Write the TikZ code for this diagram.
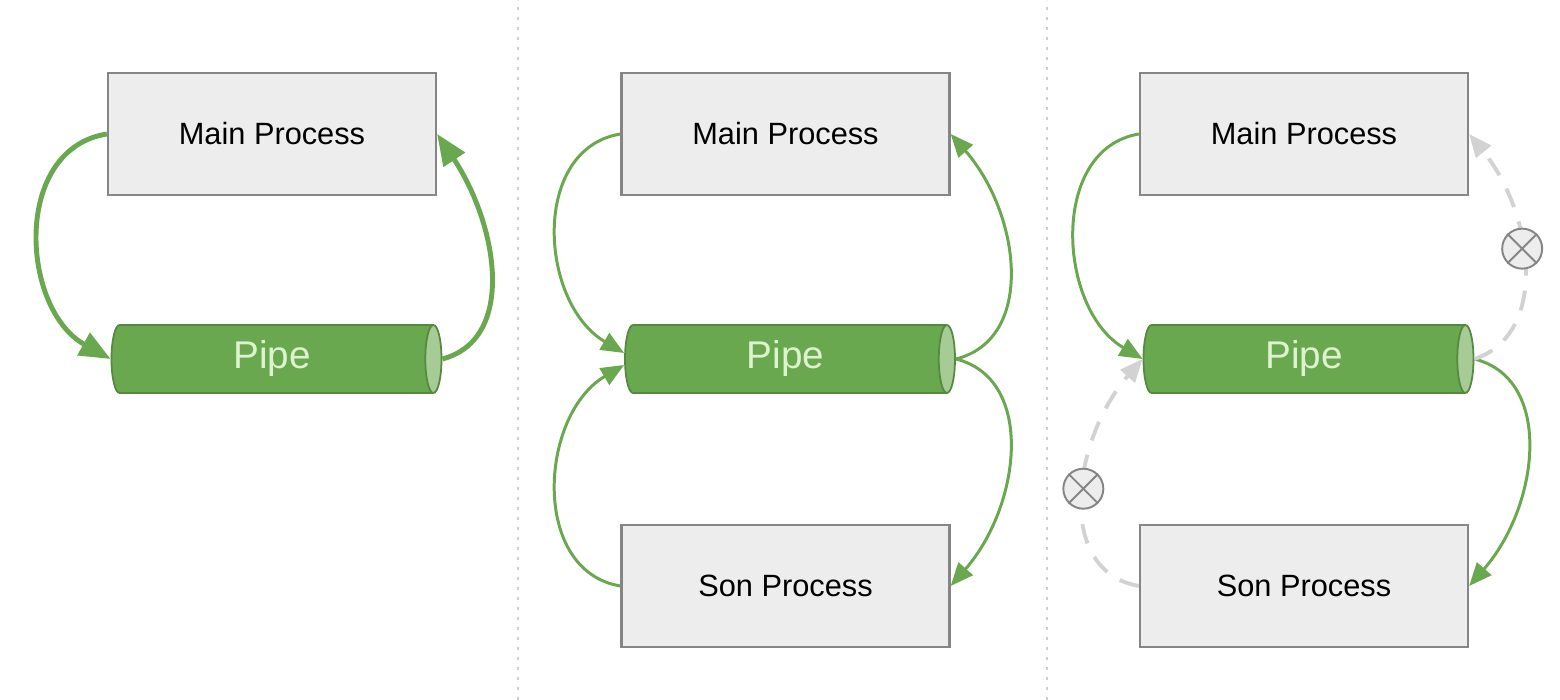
\documentclass[tikz,border=0pt]{standalone}
\usepackage{fontspec}
\setmainfont{Liberation Sans}
\usetikzlibrary{shapes.geometric}
\usetikzlibrary{arrows.meta}

\definecolor{boxfill}{HTML}{EDEDED}
\definecolor{boxline}{HTML}{858585}
\definecolor{pipegreen}{HTML}{6AA84F}
\definecolor{pipeline}{HTML}{55893F}
\definecolor{pipecap}{HTML}{A6CB94}
\definecolor{pipetext}{HTML}{DDF3CF}
\definecolor{deadgray}{HTML}{D2D2D2}
\definecolor{sepgray}{HTML}{CFCFCF}

\tikzset{
  procbox/.style={draw=boxline, fill=boxfill, line width=1.3pt, minimum width=6.56cm,
    minimum height=2.44cm, inner sep=0pt, font=\fontsize{17.5}{21}\selectfont},
  pipebox/.style={cylinder, shape aspect=0.45, draw=pipeline, line width=1pt,
    cylinder uses custom fill, cylinder body fill=pipegreen, cylinder end fill=pipecap,
    minimum height=6.6cm, minimum width=1.36cm, inner sep=0pt, text=pipetext,
    font=\fontsize{22}{26}\selectfont},
  flowbig/.style={draw=pipegreen, line width=2.8pt, -{Triangle[length=0.62cm,width=0.5cm]}},
  flow/.style={draw=pipegreen, line width=1.7pt, -{Triangle[length=0.46cm,width=0.38cm]}},
  deadflow/.style={draw=deadgray, line width=2.2pt, dash pattern=on 0.4cm off 0.3cm,
    -{Triangle[length=0.46cm,width=0.38cm]}},
  blocked/.style={circle, solid, draw=boxline, fill=boxfill, line width=1.1pt, minimum size=0.8cm, inner sep=0pt},
  sepline/.style={draw=sepgray, line width=1.6pt, dash pattern=on 0.06cm off 0.14cm}
}

\begin{document}
\begin{tikzpicture}
\useasboundingbox (0,0) rectangle (31.2,14);

% Separators
\draw[sepline] (10.36,0) -- (10.36,14);
\draw[sepline] (20.94,0) -- (20.94,14);

% Panel 1: main process and pipe
\node[procbox] (main1) at (5.44,11.32) {Main Process};
\node[pipebox] (pipe1) at (5.44,6.82) {Pipe};
\draw[flowbig] (main1.west) .. controls +(-1.9,-0.3) and +(-1.8,1.0) .. (pipe1.west);
\draw[flowbig] (pipe1.east) .. controls +(1.5,0.4) and +(1.2,-1.8) .. (main1.east);

% Panel 2: main process, pipe and son process
\node[procbox] (main2) at (15.71,11.32) {Main Process};
\node[pipebox] (pipe2) at (15.71,6.82) {Pipe};
\node[procbox] (son2) at (15.71,2.28) {Son Process};
\draw[flow] (main2.west) .. controls +(-1.8,-0.3) and +(-1.7,1.0) .. ([yshift=0.12cm]pipe2.west);
\draw[flow] (son2.west) .. controls +(-1.8,0.3) and +(-1.7,-1.0) .. ([yshift=-0.12cm]pipe2.west);
\draw[flow] (pipe2.east) .. controls +(1.6,0.4) and +(1.4,-1.6) .. (main2.east);
\draw[flow] (pipe2.east) .. controls +(1.6,-0.4) and +(1.4,1.6) .. (son2.east);

% Panel 3: son closes one end, main closes the other
\node[procbox] (main3) at (26.08,11.32) {Main Process};
\node[pipebox] (pipe3) at (26.08,6.82) {Pipe};
\node[procbox] (son3) at (26.08,2.28) {Son Process};
\draw[flow] (main3.west) .. controls +(-1.8,-0.3) and +(-1.7,1.0) .. (pipe3.west);
\draw[flow] (pipe3.east) .. controls +(1.6,-0.4) and +(1.4,1.6) .. (son3.east);
\draw[deadflow] (pipe3.east) .. controls +(1.5,0.5) and +(1.3,-1.6) .. (main3.east)
  node[blocked, pos=0.57] (stop1) {};
\draw[deadflow] (son3.west) .. controls +(-1.7,0.3) and +(-1.4,-1.6) .. (pipe3.west)
  node[blocked, pos=0.53] (stop2) {};
\draw[boxline, line width=1.1pt] (stop1.north west) -- (stop1.south east) (stop1.north east) -- (stop1.south west);
\draw[boxline, line width=1.1pt] (stop2.north west) -- (stop2.south east) (stop2.north east) -- (stop2.south west);
\end{tikzpicture}
\end{document}
